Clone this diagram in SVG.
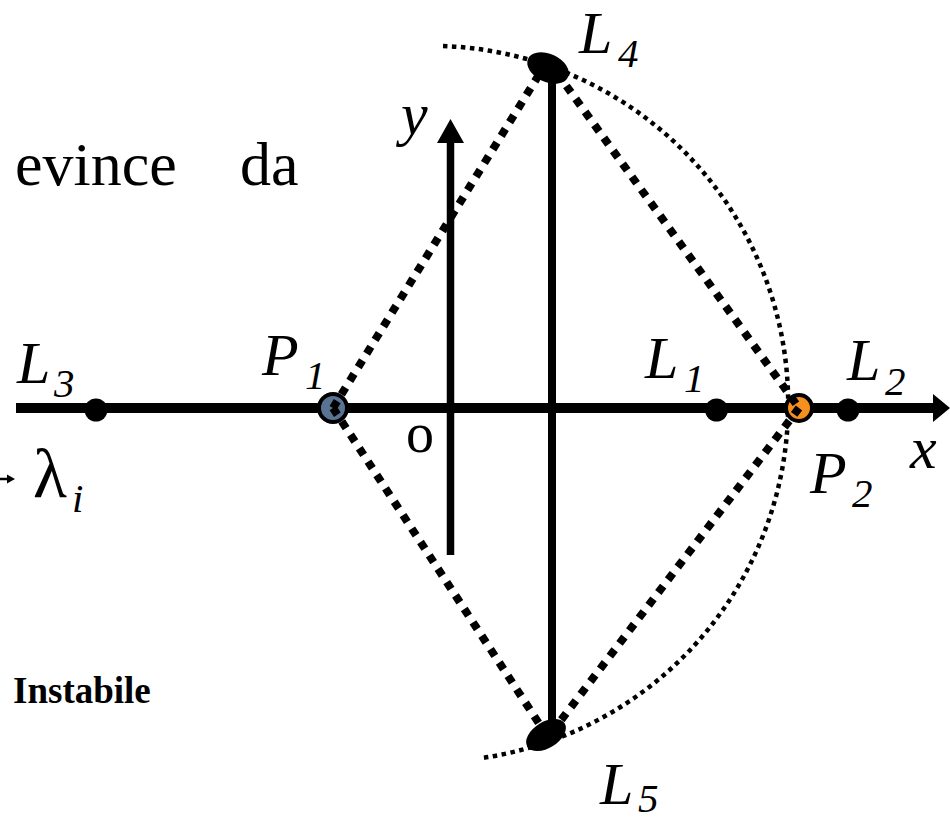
<svg xmlns="http://www.w3.org/2000/svg" width="950" height="823" viewBox="0 0 950 823">
<style>
text{font-family:"Liberation Serif","Times New Roman","DejaVu Serif",serif;fill:#000}
.lbl{font-style:italic;font-size:60px}
.sub{font-style:italic;font-size:41px}
.dash{fill:none;stroke:#000;stroke-width:8;stroke-dasharray:8 8}
.arc{fill:none;stroke:#000;stroke-width:4.5;stroke-dasharray:4.5 4.5}
.axis{stroke:#000;fill:none}
</style>
<rect width="950" height="823" fill="#fff"/>
<g id="axes">
<line class="axis" x1="16" y1="408" x2="936" y2="408" stroke-width="10"/>
<polygon points="950,408 933,394 933,422" fill="#000"/>
<line class="axis" x1="450.5" y1="555" x2="450.5" y2="140" stroke-width="7.5"/>
<polygon points="450.5,119 437,143 464,143" fill="#000"/>
<line class="axis" x1="552" y1="68" x2="552" y2="735" stroke-width="8"/>
</g>
<g id="arc">
<path class="arc" d="M443,46 A358,358 0 0 1 482,758"/>
</g>
<g id="L3"><circle cx="96" cy="410" r="11.5" fill="#000"/><text class="lbl" x="17" y="383">L</text><text class="sub" x="54" y="397">3</text></g>
<g id="L1"><circle cx="716.5" cy="410" r="11.5" fill="#000"/><text class="lbl" x="645" y="378">L</text><text class="sub" x="684" y="392">1</text></g>
<g id="L2"><circle cx="848" cy="410" r="11.5" fill="#000"/><text class="lbl" x="847" y="380">L</text><text class="sub" x="885" y="395">2</text></g>
<g id="P1"><circle cx="333" cy="408" r="14" fill="#5b7392" stroke="#000" stroke-width="4"/><text class="lbl" x="262" y="375">P</text><text class="sub" x="305" y="389">1</text></g>
<g id="P2"><circle cx="799" cy="408" r="13" fill="#f5901e" stroke="#000" stroke-width="4"/><text class="lbl" x="810" y="493">P</text><text class="sub" x="852" y="507">2</text></g>
<g id="L4"><ellipse cx="548" cy="68" rx="22" ry="14" transform="rotate(25 548 68)" fill="#000"/><text class="lbl" x="579" y="53">L</text><text class="sub" x="618" y="67">4</text></g>
<g id="L5"><ellipse cx="546" cy="735" rx="22" ry="13" transform="rotate(-32 546 735)" fill="#000"/><text class="lbl" x="600" y="804">L</text><text class="sub" x="638" y="812">5</text></g>
<g id="connectors">
<line class="dash" x1="333" y1="408" x2="540" y2="73"/>
<line class="dash" x1="333" y1="408" x2="540" y2="725"/>
<line class="dash" x1="557" y1="73" x2="799" y2="408"/>
<line class="dash" x1="799" y1="408" x2="555" y2="728"/>
</g>
<g id="labels">
<text class="lbl" x="401" y="134">y</text>
<text class="lbl" x="910" y="468">x</text>
<text x="406" y="452" font-size="56">o</text>
<text x="15" y="185" font-size="62">evince<tspan x="240">da</tspan></text>
<text x="33" y="497" font-size="70">λ</text>
<text class="sub" x="72" y="512">i</text>
<text x="13" y="703" font-size="37" font-weight="bold">Instabile</text>
<line x1="0" y1="479" x2="9" y2="479" stroke="#000" stroke-width="2.5"/>
<polygon points="15,479 7,474.5 7,483.5" fill="#000"/>
</g>
</svg>
